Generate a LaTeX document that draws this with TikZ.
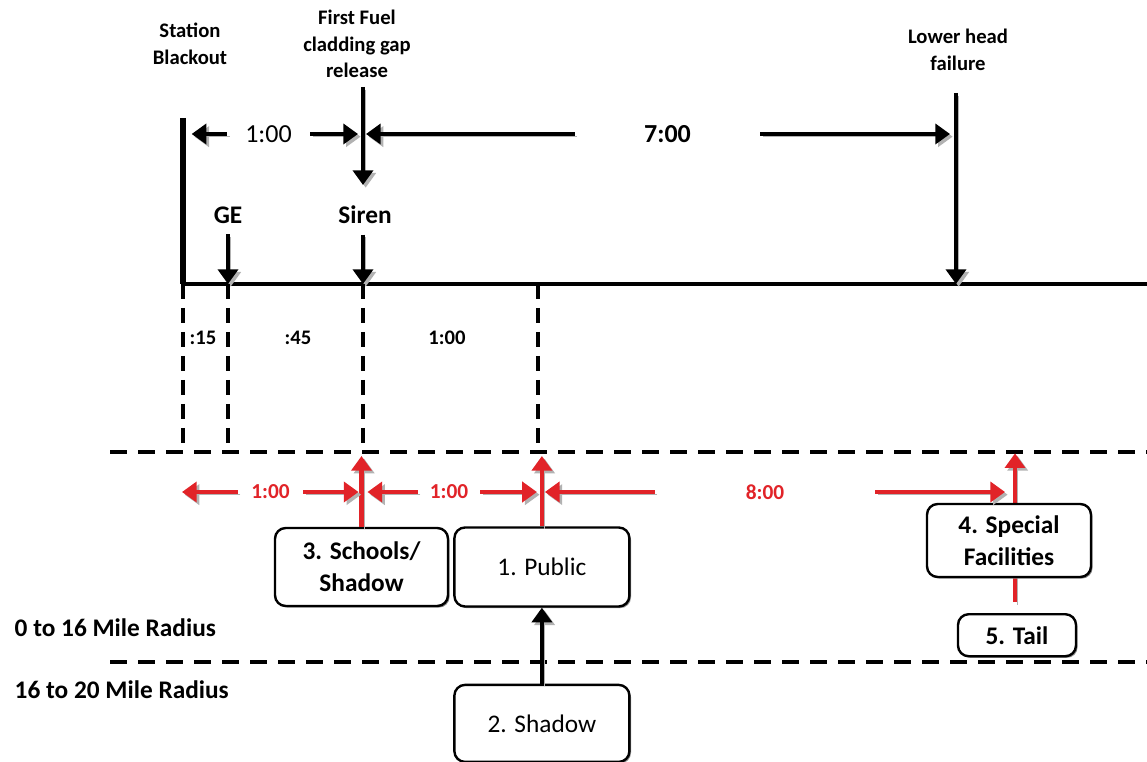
\documentclass[tikz,border=0pt]{standalone}
\usepackage{fontspec}
\setmainfont{Carlito}
\usetikzlibrary{positioning, arrows.meta, calc, shadows}

\definecolor{evacred}{RGB}{225,35,40}

\begin{document}
\begin{tikzpicture}[
    x=0.75pt, y=-0.75pt,
    shade_line/.style={preaction={draw=black!30, transform canvas={shift={(2pt,-2pt)}}}},
    bar/.style={line width=4pt},
    timeline/.style={line width=2.6pt},
    arrow_blk/.style={line width=3.4pt, -{Triangle[length=11pt, width=15pt]}, shade_line},
    arrow_red/.style={line width=3.2pt, evacred, -{Triangle[length=11pt, width=15pt]}, shade_line},
    guide/.style={line width=2.8pt, dash pattern=on 11pt off 7pt},
    zone/.style={line width=2.8pt, dash pattern=on 13pt off 8pt},
    event/.style={font=\fontsize{15.5}{20}\selectfont\bfseries, align=center},
    marker/.style={font=\fontsize{19}{23}\selectfont\bfseries},
    span_label/.style={inner sep=0pt, minimum height=20pt, font=\fontsize{19.5}{23}\selectfont},
    span_red/.style={inner sep=0pt, minimum height=18pt, text=evacred, font=\fontsize{16}{20}\selectfont\bfseries},
    mid_label/.style={font=\fontsize{15.5}{20}\selectfont\bfseries},
    phase_box/.style={draw, line width=1.8pt, rounded corners=8pt, fill=white, align=center,
        inner sep=0pt, font=\fontsize{19}{24}\selectfont,
        drop shadow={shadow xshift=1.2pt, shadow yshift=-1.2pt, fill=black!45, opacity=1}}
]
\useasboundingbox (0,0) rectangle (1147,762);

% ==========================================
% Upper timeline: accident progression
\coordinate (sbo_top) at (183,118);
\coordinate (tl_left) at (181,284);
\coordinate (tl_right) at (1147,284);
\coordinate (fuel_top) at (363,87);
\coordinate (fuel_tip) at (363,185);
\coordinate (lhf_top) at (956,93);
\coordinate (pub_mark) at (538,284);

\draw[bar] (sbo_top) -- (sbo_top |- tl_left);
\draw[timeline] (tl_left) -- (tl_right);

\node[event] (sbo) at (190,44) {Station\\Blackout};
\node[event] (fuel) at (357,44) {First Fuel\\cladding gap\\release};
\node[event] (lhf) at (958,50) {Lower head\\failure};

\draw[arrow_blk] (fuel_top) -- (fuel_tip);
\draw[arrow_blk] (lhf_top) -- (lhf_top |- tl_left);

% GE and siren
\node[marker] (ge) at (228,215) {GE};
\node[marker] (siren) at (365,215) {Siren};
\draw[arrow_blk] ($(ge.south)+(0,6)$) -- (ge.south |- tl_left);
\draw[arrow_blk] ($(siren.south -| fuel_top)+(0,6)$) -- (fuel_top |- tl_left);

% Durations between events
\node[span_label, minimum width=62pt] (d_sbo_fuel) at (268.5,134) {1:00};
\draw[arrow_blk, shorten >=6.5pt] (d_sbo_fuel.west) -- (sbo_top |- d_sbo_fuel.west);
\draw[arrow_blk, shorten >=3.75pt] (d_sbo_fuel.east) -- (fuel_top |- d_sbo_fuel.east);

\node[span_label, minimum width=139pt, font=\fontsize{19.5}{23}\selectfont\bfseries] (d_fuel_lhf) at (667.5,134) {7:00};
\draw[arrow_blk, shorten >=2.25pt] (d_fuel_lhf.west) -- (fuel_top |- d_fuel_lhf.west);
\draw[arrow_blk, shorten >=4.5pt] (d_fuel_lhf.east) -- (lhf_top |- d_fuel_lhf.east);

% ==========================================
% Guide lines down to the evacuation zone
\coordinate (zone_a) at (110,452);
\coordinate (zone_a_r) at (1147,452);
\coordinate (zone_b) at (110,662);
\coordinate (zone_b_r) at (1147,662);

\draw[guide] (sbo_top |- tl_left) -- (sbo_top |- zone_a);
\draw[guide] (ge.south |- tl_left) -- (ge.south |- zone_a);
\draw[guide] (fuel_top |- tl_left) -- (fuel_top |- zone_a);
\draw[guide] (pub_mark) -- (pub_mark |- zone_a);

\node[mid_label] (d15) at (203,338) {:15};
\node[mid_label] (d45) at (298,338) {:45};
\node[mid_label] (d100) at (447,338) {1:00};

\draw[zone] (zone_a) -- (zone_a_r);
\draw[zone] (zone_b) -- (zone_b_r);

\node[marker, anchor=west] (r0_16) at (10,628) {0 to 16 Mile Radius};
\node[marker, anchor=west] (r16_20) at (10,690) {16 to 20 Mile Radius};

% ==========================================
% Evacuation groups
\node[phase_box, font=\fontsize{19}{24}\selectfont\bfseries, minimum width=129.75pt, minimum height=58.5pt] (schools) at (361.5,567) {3. Schools/\\Shadow};
\node[phase_box, minimum width=131.25pt, minimum height=59.25pt, right=3pt of schools] (public) {1. Public};
\node[phase_box, minimum width=131.25pt, minimum height=57.75pt, below=57pt of public] (shadow) {2. Shadow};
\coordinate (spec_pos) at (1009,540.5);
\node[phase_box, font=\fontsize{19}{24}\selectfont\bfseries, minimum width=88.5pt, minimum height=31.5pt, below=27pt of spec_pos, yshift=-27.4pt, xshift=6pt] (tail) {5. Tail};

\draw[arrow_red, shorten >=3pt] (schools.north) -- (schools.north |- zone_a);
\draw[arrow_red, shorten >=3pt] (public.north) -- (public.north |- zone_a);
\draw[arrow_red, shorten >=1pt] ($(tail.north)+(-2,-11)$) -- ($(tail.north |- zone_a)+(-2,0)$);

\node[phase_box, font=\fontsize{19}{24}\selectfont\bfseries, minimum width=123pt, minimum height=54.75pt] (special) at (spec_pos) {4. Special\\Facilities};
\draw[arrow_blk] (shadow.north) -- (public.south);

% Evacuation durations
\node[span_red, minimum width=48.75pt] (r_schools) at (270.5,492) {1:00};
\node[span_red, minimum width=46.5pt] (r_public) at (449,492) {1:00};
\node[span_red, minimum width=165pt] (r_special) at (765,492) {8:00};
\coordinate (r_start) at (182,492);

\draw[arrow_red] (r_schools.west) -- (r_start);
\draw[arrow_red, shorten >=2.25pt] (r_schools.east) -- (schools.north |- r_schools.east);
\draw[arrow_red, shorten >=4.5pt] (r_public.west) -- (schools.north |- r_public.west);
\draw[arrow_red, shorten >=3.75pt] (r_public.east) -- (public.north |- r_public.east);
\draw[arrow_red, shorten >=2.25pt] (r_special.west) -- (public.north |- r_special.west);
\draw[arrow_red, shorten >=9pt] (r_special.east) -- (tail.north |- r_special.east);

\end{tikzpicture}
\end{document}
